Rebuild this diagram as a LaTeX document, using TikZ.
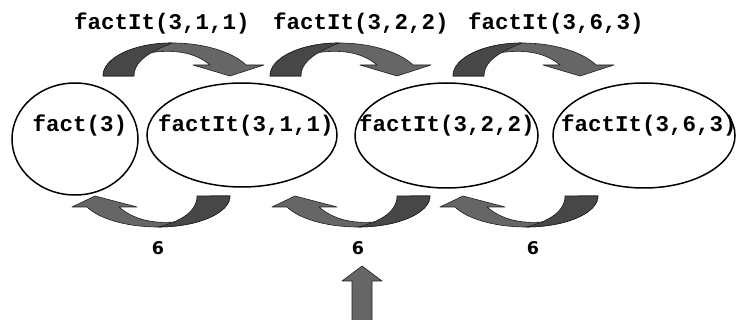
\documentclass[tikz,border=0pt]{standalone}
\usepackage{fontspec}
\setmonofont{Liberation Mono}
\newfontfamily\numfont{DejaVu Sans}
\usetikzlibrary{shapes.geometric}
\definecolor{arrlight}{HTML}{666666}
\definecolor{arrdark}{HTML}{474747}
\definecolor{arrline}{HTML}{1E1E1E}
\tikzset{
  lightpart/.style={fill=arrlight, draw=arrline, line width=0.6pt, line join=round},
  darkpart/.style={fill=arrdark, draw=arrline, line width=0.6pt, line join=round},
  oval/.style={ellipse, draw=black, line width=1.5pt, inner sep=0pt},
  calltext/.style={font=\fontsize{22.5}{26}\ttfamily\bfseries, anchor=base, inner sep=0pt},
  restext/.style={font=\fontsize{17.5}{20}\numfont\bfseries, anchor=base, inner sep=0pt},
  toparrow/.pic={
    \path[lightpart] (0,0) .. controls (0,-18.2) and (30.9,-33) .. (69,-33)
      .. controls (105,-33) and (132,-22) .. (143,-11) -- (161,-11) -- (127,0)
      -- (90,-11) -- (107,-11) .. controls (92,-24) and (70,-27) .. (45,-23)
      -- (25,-8) -- (31,0) -- cycle;
    \path[darkpart] (0,0) .. controls (0,-18.2) and (30.9,-33) .. (69,-33)
      .. controls (55,-27) and (31,-18) .. (31,0) -- cycle;
  },
  botarrow/.pic={
    \path[lightpart] (0,0) .. controls (0,17.1) and (-32.3,31) .. (-72,31)
      .. controls (-105,31) and (-132,22) .. (-143,11) -- (-158,11) -- (-135,0)
      -- (-93,11) -- (-111,11) .. controls (-96,24) and (-75,29) .. (-47,25)
      -- (-20,0) -- cycle;
    \path[darkpart] (0,0) .. controls (0,17.1) and (-32.3,31) .. (-72,31)
      .. controls (-55,27) and (-33,18) .. (-33,0) -- cycle;
  }
}
\begin{document}
\begin{tikzpicture}[x=1pt, y=-1pt]
\useasboundingbox (0,0) rectangle (742,320);
% call labels
\node[calltext] (c1) at (162,30) {factIt(3,1,1)};
\node[calltext] (c2) at (361,30) {factIt(3,2,2)};
\node[calltext] (c3) at (556,30) {factIt(3,6,3)};
% top curved arrows
\pic (ta1) at (103,76) {toparrow};
\pic (ta2) at (270,76) {toparrow};
\pic (ta3) at (453,76) {toparrow};
% ellipses
\node[oval, minimum width=126pt, minimum height=112pt] (e1) at (75,139) {};
\node[oval, minimum width=190pt, minimum height=104pt] (e2) at (242,135) {};
\node[oval, minimum width=183pt, minimum height=105pt] (e3) at (446.5,135.5) {};
\node[oval, minimum width=182pt, minimum height=105pt] (e4) at (644,135.5) {};
\node[calltext] (t1) at (80,132) {fact(3)};
\node[calltext] (t2) at (246,132) {factIt(3,1,1)};
\node[calltext] (t3) at (447,132) {factIt(3,2,2)};
\node[calltext] (t4) at (649,132) {factIt(3,6,3)};
% bottom curved arrows
\pic (ba1) at (230,196) {botarrow};
\pic (ba2) at (430,196) {botarrow};
\pic (ba3) at (598,196) {botarrow};
% results
\node[restext] (r1) at (158,255) {6};
\node[restext] (r2) at (358,255) {6};
\node[restext] (r3) at (533,255) {6};
% vertical arrow
\path[lightpart] (352,325) -- (352,281) -- (342,281) -- (362,266) -- (382,281) -- (372,281) -- (372,325) -- cycle;
\end{tikzpicture}
\end{document}
